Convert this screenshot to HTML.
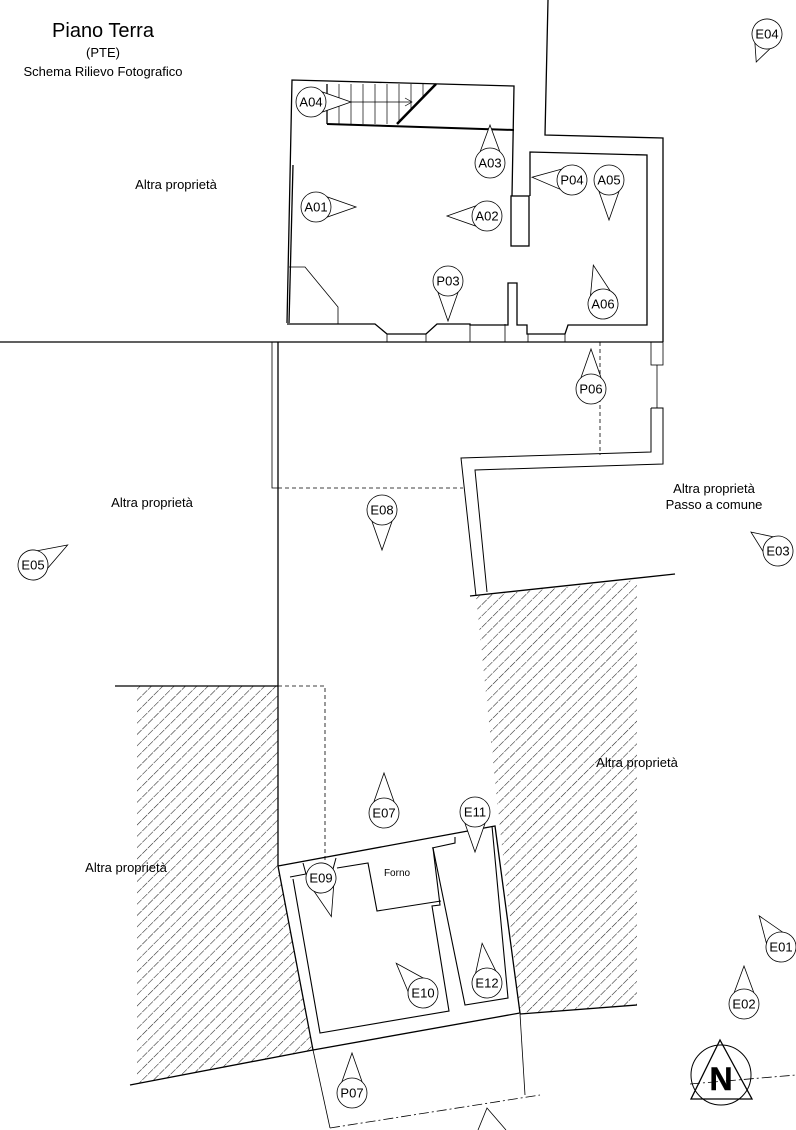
<!DOCTYPE html>
<html><head><meta charset="utf-8"><style>
html,body{margin:0;padding:0;background:#fff}
svg{display:block}
text{font-family:"Liberation Sans",sans-serif;fill:#000}
</style></head><body>
<svg width="796" height="1130" viewBox="0 0 796 1130" xmlns="http://www.w3.org/2000/svg">
<defs>
<pattern id="h" width="8" height="8" patternUnits="userSpaceOnUse" patternTransform="rotate(45)">
<line x1="0" y1="0" x2="0" y2="8" stroke="#222" stroke-width="1.1" stroke-dasharray="7,2"/>
</pattern>
</defs>
<polygon points="137,686 278,686 278,866 313,1050 130,1085 137,1080" fill="url(#h)"/>
<polygon points="476,596 637,580 637,1005 520,1014 497,800" fill="url(#h)"/>
<g fill="none" stroke="#000" stroke-width="1.3">
<polyline points="287,323 292,80 514,86 512,196"/>
<line x1="293" y1="165" x2="289" y2="323"/>
<line x1="327" y1="84" x2="327" y2="124"/>
<polyline points="327,124 514,130" stroke-width="2"/>
<line x1="397" y1="124" x2="436" y2="84" stroke-width="2.5"/>
<polyline points="548,0 545,135 663,138 663,342"/>
<polyline points="530,196 530,152 647,155 647,325 568,325 565,334 527,334 527,325 517,325 517,283 508,283 508,325 470,325 470,324 437,324 426,334 387,334 375,324 287,324"/>
<rect x="511" y="196" width="18" height="50"/>
<polyline points="289,267 305,267 338,307 338,324" stroke-width="0.8"/>
<line x1="0" y1="342" x2="663" y2="342"/>
<line x1="387" y1="334" x2="387" y2="342" stroke-width="0.8"/>
<line x1="426" y1="334" x2="426" y2="342" stroke-width="0.8"/>
<line x1="470" y1="324" x2="470" y2="342" stroke-width="0.8"/>
<line x1="505" y1="324" x2="505" y2="342" stroke-width="0.8"/>
<line x1="528" y1="334" x2="528" y2="342" stroke-width="0.8"/>
<line x1="565" y1="334" x2="565" y2="342" stroke-width="0.8"/>
<line x1="278" y1="342" x2="278" y2="866"/>
<polyline points="278,488 272,488 272,342" stroke-width="0.8"/>
<rect x="651" y="342" width="12" height="23" stroke-width="0.8"/>
<line x1="657" y1="365" x2="657" y2="408" stroke-width="0.8"/>
<polyline points="651,408 663,408 663,464 475,470 487,592" stroke-width="1"/>
<polyline points="651,408 651,452 461,458 476,596" stroke-width="1"/>
<line x1="470" y1="596" x2="675" y2="574"/>
<line x1="115" y1="686" x2="278" y2="686"/>
<polyline points="278,866 495,826 520,1013 313,1050 278,866"/>
<polyline points="293,879 320,1033 449,1011 432,906 440,905 433,848" stroke-width="1.1"/>
<polyline points="290,877 306,874 303,863" stroke-width="1"/>
<polyline points="336,858 333,869" stroke-width="1"/>
<polyline points="337,868 368,863 377,911 441,901" stroke-width="1.1"/>
<polyline points="432,848 455,843 455,837" stroke-width="1.1"/>
<polyline points="433,848 465,1005 508,998 492,826" stroke-width="1.1"/>
<line x1="313" y1="1050" x2="130" y2="1085"/>
<line x1="520" y1="1014" x2="637" y2="1005"/>
<line x1="313" y1="1050" x2="330" y2="1128" stroke-width="0.8"/>
<line x1="520" y1="1014" x2="525" y2="1095" stroke-width="0.8"/>
<circle cx="721" cy="1075" r="30" stroke-width="1"/>
<polygon points="720,1040 691,1099 752,1099"/>
</g>
<g fill="none" stroke="#000" stroke-width="0.8" stroke-dasharray="4,3">
<line x1="278" y1="488" x2="463" y2="488"/>
<line x1="600" y1="342" x2="600" y2="455"/>
<polyline points="278,686 325,686 325,862"/>
<polyline points="330,1128 540,1095" stroke-dasharray="10,3,2,3"/>
<polyline points="690,1084 796,1075" stroke-dasharray="10,3,2,3"/>
</g>
<g stroke="#000" stroke-width="0.7">
<line x1="339" y1="84" x2="339" y2="124"/><line x1="351" y1="84" x2="351" y2="124"/>
<line x1="363" y1="84" x2="363" y2="124"/><line x1="375" y1="84" x2="375" y2="124"/>
<line x1="387" y1="84" x2="387" y2="124"/><line x1="399" y1="84" x2="399" y2="122"/>
<line x1="411" y1="84" x2="411" y2="110"/><line x1="423" y1="84" x2="423" y2="97"/>
<line x1="327" y1="102" x2="412" y2="102"/>
<polyline points="405,98 412,102 405,106" fill="none"/>
</g>
<g fill="#fff" stroke="#000" stroke-width="0.8">
<g transform="translate(311,102) rotate(0)"><polygon points="0,-14 0,14 40,0"/><circle r="15"/></g>
<g transform="translate(490,163) rotate(-90)"><polygon points="0,-14 0,14 38,0"/><circle r="15"/></g>
<g transform="translate(316,207) rotate(0)"><polygon points="0,-14 0,14 40,0"/><circle r="15"/></g>
<g transform="translate(487,216) rotate(180)"><polygon points="0,-14 0,14 40,0"/><circle r="15"/></g>
<g transform="translate(572,180) rotate(184)"><polygon points="0,-14 0,14 40,0"/><circle r="15"/></g>
<g transform="translate(609,180) rotate(90)"><polygon points="0,-14 0,14 40,0"/><circle r="15"/></g>
<g transform="translate(448,281) rotate(90)"><polygon points="0,-14 0,14 40,0"/><circle r="15"/></g>
<g transform="translate(603,304) rotate(-104)"><polygon points="0,-14 0,14 40,0"/><circle r="15"/></g>
<g transform="translate(591,389) rotate(-90)"><polygon points="0,-14 0,14 40,0"/><circle r="15"/></g>
<g transform="translate(767,34) rotate(111)"><polygon points="0,-14 0,14 30,0"/><circle r="15"/></g>
<g transform="translate(382,510) rotate(90)"><polygon points="0,-14 0,14 40,0"/><circle r="15"/></g>
<g transform="translate(33,565) rotate(-30)"><polygon points="0,-14 0,14 40,0"/><circle r="15"/></g>
<g transform="translate(778,551) rotate(-145)"><polygon points="0,-14 0,14 33,0"/><circle r="15"/></g>
<g transform="translate(384,813) rotate(-90)"><polygon points="0,-14 0,14 40,0"/><circle r="15"/></g>
<g transform="translate(475,812) rotate(90)"><polygon points="0,-14 0,14 40,0"/><circle r="15"/></g>
<g transform="translate(321,878) rotate(75)"><polygon points="0,-14 0,14 40,0"/><circle r="15"/></g>
<g transform="translate(423,993) rotate(-132)"><polygon points="0,-14 0,14 40,0"/><circle r="15"/></g>
<g transform="translate(487,983) rotate(-97)"><polygon points="0,-14 0,14 40,0"/><circle r="15"/></g>
<g transform="translate(781,947) rotate(-125)"><polygon points="0,-14 0,14 38,0"/><circle r="15"/></g>
<g transform="translate(744,1004) rotate(-90)"><polygon points="0,-14 0,14 38,0"/><circle r="15"/></g>
<g transform="translate(352,1093) rotate(-90)"><polygon points="0,-14 0,14 40,0"/><circle r="15"/></g>
<polyline points="478,1130 487,1108 506,1130" fill="none"/>
</g>
<g font-size="13" text-anchor="middle" dominant-baseline="central">
<text x="311" y="102">A04</text><text x="490" y="163">A03</text><text x="316" y="207">A01</text>
<text x="487" y="216">A02</text><text x="572" y="180">P04</text><text x="609" y="180">A05</text>
<text x="448" y="281">P03</text><text x="603" y="304">A06</text><text x="591" y="389">P06</text>
<text x="767" y="34">E04</text><text x="382" y="510">E08</text><text x="33" y="565">E05</text>
<text x="778" y="551">E03</text><text x="384" y="813">E07</text><text x="475" y="812">E11</text>
<text x="321" y="878">E09</text><text x="423" y="993">E10</text><text x="487" y="983">E12</text>
<text x="781" y="947">E01</text><text x="744" y="1004">E02</text><text x="352" y="1093">P07</text>
</g>
<g text-anchor="middle">
<text x="103" y="37" font-size="20">Piano Terra</text>
<text x="103" y="57" font-size="13">(PTE)</text>
<text x="103" y="76" font-size="13">Schema Rilievo Fotografico</text>
<text x="176" y="189" font-size="13">Altra proprietà</text>
<text x="152" y="507" font-size="13">Altra proprietà</text>
<text x="714" y="493" font-size="13">Altra proprietà</text>
<text x="714" y="509" font-size="13">Passo a comune</text>
<text x="637" y="767" font-size="13">Altra proprietà</text>
<text x="126" y="872" font-size="13">Altra proprietà</text>
<text x="397" y="876" font-size="10">Forno</text>
<text x="721" y="1090" font-size="32" font-weight="bold" stroke="#000" stroke-width="0.5">N</text>
</g>
</svg>
</body></html>
